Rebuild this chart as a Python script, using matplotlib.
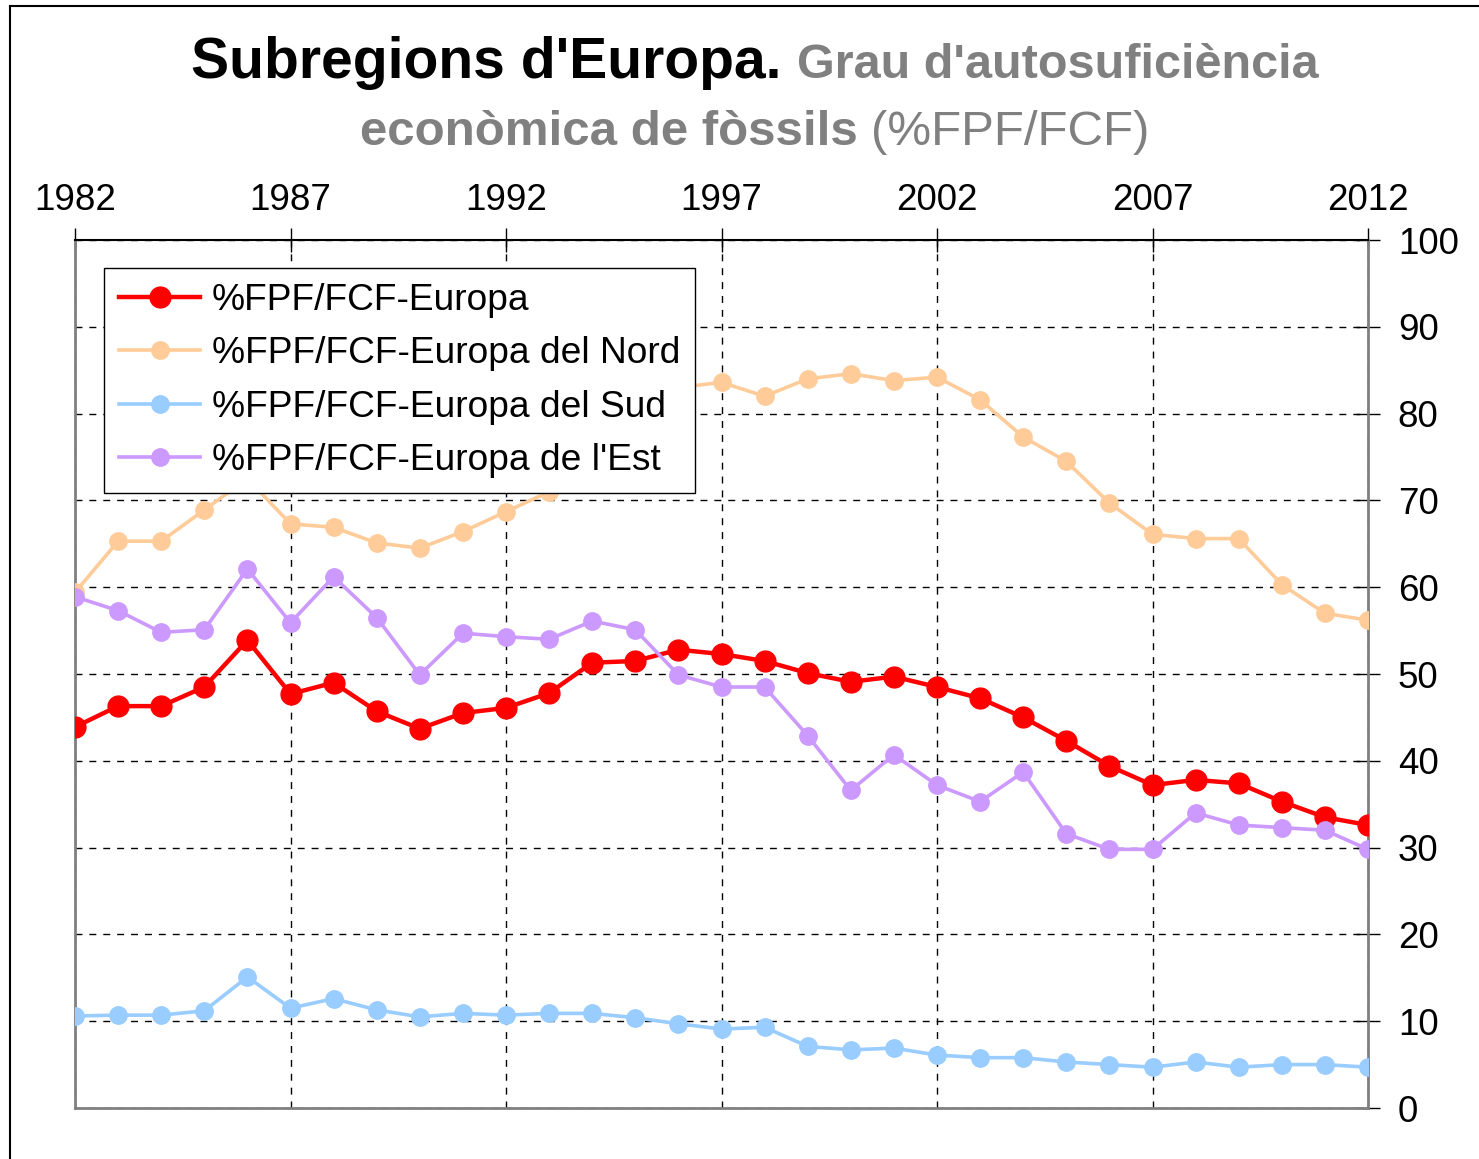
import matplotlib.pyplot as plt
from matplotlib.lines import Line2D

plt.rcParams['font.family'] = ['Liberation Sans', 'DejaVu Sans']

years = list(range(1982, 2013))

europa = [43.9, 46.3, 46.3, 48.5, 53.9, 47.7, 49.0, 45.7, 43.7, 45.5, 46.1,
          47.8, 51.3, 51.5, 52.8, 52.3, 51.5, 50.1, 49.1, 49.7, 48.5, 47.2,
          45.0, 42.3, 39.4, 37.2, 37.8, 37.4, 35.3, 33.5, 32.6]
nord = [59.4, 65.3, 65.3, 68.9, 72.5, 67.3, 66.9, 65.1, 64.5, 66.4, 68.7,
        71.0, 76.0, 80.0, 83.0, 83.6, 82.0, 84.0, 84.6, 83.8, 84.2, 81.6,
        77.3, 74.5, 69.7, 66.1, 65.6, 65.6, 60.3, 57.0, 56.2]
sud = [10.6, 10.7, 10.7, 11.2, 15.1, 11.5, 12.6, 11.3, 10.5, 10.9, 10.7,
       10.9, 10.9, 10.4, 9.7, 9.1, 9.3, 7.1, 6.7, 6.9, 6.1, 5.8,
       5.8, 5.3, 5.0, 4.7, 5.3, 4.7, 5.0, 5.0, 4.7]
est = [58.9, 57.3, 54.8, 55.1, 62.1, 55.9, 61.2, 56.5, 49.9, 54.7, 54.3,
       54.0, 56.1, 55.1, 49.9, 48.5, 48.5, 42.9, 36.6, 40.7, 37.2, 35.3,
       38.7, 31.6, 29.8, 29.8, 34.0, 32.6, 32.3, 32.0, 29.8]

labels = ['%FPF/FCF-Europa', '%FPF/FCF-Europa del Nord',
          '%FPF/FCF-Europa del Sud', "%FPF/FCF-Europa de l'Est"]
colors = ['#FF0000', '#FFCC99', '#99CCFF', '#CC99FF']
widths = [3.2, 2.6, 2.6, 2.6]
msizes = [15, 12.5, 12.5, 12.5]

fig = plt.figure(figsize=(14.79, 11.59), dpi=100)
ax = fig.add_axes([75 / 1479, 51 / 1159, 1293 / 1479, 868 / 1159])

# series (Excel order: last one on top)
for i, ys in enumerate([europa, nord, sud, est]):
    ax.plot(years, ys, color=colors[i], lw=widths[i], marker='o', ms=msizes[i],
            zorder=3 + i)

ax.set_xlim(1982, 2012)
ax.set_ylim(0, 100)
ax.set_xticks(range(1982, 2013, 5))
ax.set_yticks(range(0, 101, 10))
ax.xaxis.tick_top()
ax.yaxis.tick_right()
ax.tick_params(axis='both', direction='inout', length=17, width=1, labelsize=26.5,
               color='black')
ax.tick_params(axis='x', pad=7)
ax.tick_params(axis='y', pad=13)
ax.grid(True, color='black', linestyle=(0, (5, 5)), lw=1)

for s in ['left', 'bottom', 'right']:
    ax.spines[s].set_color('#808080')
    ax.spines[s].set_linewidth(2)
ax.spines['top'].set_color('black')
ax.spines['top'].set_linewidth(1.5)

# legend
handles = [Line2D([], [], color=colors[i], lw=widths[i], marker='o', ms=msizes[i])
           for i in range(4)]
leg = ax.legend(handles, labels, loc='upper left', bbox_to_anchor=(29 / 1293, 1 - 28 / 868),
                fontsize=26.7, frameon=True, fancybox=False, edgecolor='black',
                framealpha=1, borderpad=0.4, labelspacing=0.5, handlelength=2.2,
                handletextpad=0.3, borderaxespad=0)
leg.get_frame().set_linewidth(1)
leg.set_zorder(10)

# outer frame lines (left and top)
fig.add_artist(Line2D([10 / 1479, 10 / 1479], [0, 1 - 6 / 1159], color='black', lw=1.5))
fig.add_artist(Line2D([10 / 1479, 1], [1 - 6 / 1159, 1 - 6 / 1159], color='black', lw=1.5))

# title built from pieces of different style
fig.canvas.draw()
renderer = fig.canvas.get_renderer()


def title_line(pieces, y):
    texts = [fig.text(0, y, s, fontsize=fs, fontweight=fw, color=c, va='baseline')
             for s, fs, fw, c in pieces]
    ws = [t.get_window_extent(renderer).width for t in texts]
    x = (1479 * 0.5 + 15) - sum(ws) / 2
    for t, w in zip(texts, ws):
        t.set_x(x / 1479)
        x += w


title_line([("Subregions d'Europa. ", 41, 'bold', 'black'),
            ("Grau d'autosuficiència", 35, 'bold', '#808080')], 1 - 78 / 1159)
title_line([("econòmica de fòssils ", 35.5, 'bold', '#808080'),
            ("(%FPF/FCF)", 35.5, 'normal', '#808080')], 1 - 145 / 1159)

fig.savefig('out.png', dpi=100)
